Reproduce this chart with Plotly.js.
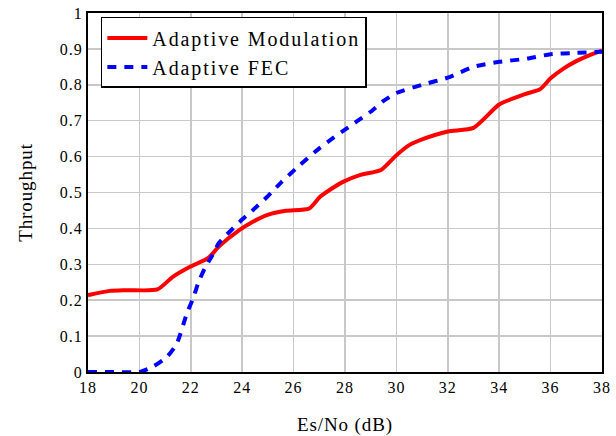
<!DOCTYPE html>
<html><head><meta charset="utf-8">
<script src="https://cdn.plot.ly/plotly-3.0.1.min.js"></script>
<style>
body{margin:0;background:#fff}#c{width:616px;height:436px}
.legendtext{letter-spacing:1.9px}
.xtick text,.ytick text{letter-spacing:1px}
.g-xtitle text,.g-ytitle text{letter-spacing:0.9px}
</style>
</head><body><div id="c"></div>
<script>
var xAM = [18, 18.85, 19.5, 20.7, 21.3, 21.97, 22.67, 23.1, 23.9, 24.4, 24.96, 25.7, 26.6, 27.03, 27.4, 27.9, 28.6, 29.4, 30.0, 30.5, 31, 32, 33, 34, 35, 35.6, 36, 36.5, 37, 37.5, 38];
var yAM = [0.214, 0.226, 0.228, 0.23, 0.265, 0.293, 0.317, 0.35, 0.396, 0.418, 0.437, 0.449, 0.455, 0.488, 0.507, 0.529, 0.549, 0.563, 0.604, 0.632, 0.648, 0.67, 0.68, 0.745, 0.774, 0.788, 0.818, 0.845, 0.866, 0.882, 0.895];
var xFEC = [18, 19, 20, 20.5, 21.07, 21.46, 21.85, 22.09, 22.3, 22.55, 22.8, 23.1, 23.5, 23.9, 24.4, 25, 25.5, 26.25, 27, 27.5, 28, 28.5, 29, 29.5, 30, 31, 32, 33, 34, 35, 36, 37, 38];
var yFEC = [0, 0, 0, 0.014, 0.042, 0.08, 0.164, 0.205, 0.25, 0.29, 0.32, 0.36, 0.39, 0.418, 0.45, 0.49, 0.527, 0.577, 0.623, 0.65, 0.675, 0.7, 0.725, 0.755, 0.777, 0.8, 0.82, 0.85, 0.864, 0.872, 0.885, 0.889, 0.892];
var xTicks = [18, 20, 22, 24, 26, 28, 30, 32, 34, 36, 38];
var yTicks = [0, 0.1, 0.2, 0.3, 0.4, 0.5, 0.6, 0.7, 0.8, 0.9, 1];
var yTickText = ['0', '0.1', '0.2', '0.3', '0.4', '0.5', '0.6', '0.7', '0.8', '0.9', '1'];

var serif = 'Liberation Serif, Times New Roman, serif';
var traces = [
  {x: xAM, y: yAM, type: 'scatter', mode: 'lines', name: 'Adaptive Modulation',
   line: {color: '#ff0000', width: 4, shape: 'spline', smoothing: 0.6}},
  {x: xFEC, y: yFEC, type: 'scatter', mode: 'lines', name: 'Adaptive FEC',
   line: {color: '#0000ff', width: 4, dash: '9px,8px', shape: 'spline', smoothing: 0.6}}
];
var layout = {
  width: 616, height: 436,
  margin: {l: 88, r: 14, t: 13, b: 64},
  paper_bgcolor: '#fff', plot_bgcolor: '#fff',
  font: {family: serif, color: '#000', size: 16},
  showlegend: true,
  legend: {x: 0.025, y: 0.989, xanchor: 'left', yanchor: 'top',
    bgcolor: '#fff', bordercolor: '#000', borderwidth: 1.5,
    font: {family: serif, size: 20, color: '#000'}, tracegroupgap: 0, itemwidth: 40},
  xaxis: {range: [18, 38], tickvals: xTicks, ticktext: xTicks.map(String),
    showgrid: true, gridcolor: '#c8c8c8', gridwidth: 1.5,
    showline: true, linecolor: '#000', linewidth: 2, mirror: true,
    ticks: '', zeroline: false, tickfont: {family: serif, size: 16},
    title: {text: 'Es/No (dB)', font: {family: serif, size: 19}, standoff: 24}},
  yaxis: {range: [0, 1], tickvals: yTicks, ticktext: yTickText,
    showgrid: true, gridcolor: '#c8c8c8', gridwidth: 1.5,
    showline: true, linecolor: '#000', linewidth: 2, mirror: true,
    ticks: '', zeroline: false, tickfont: {family: serif, size: 16},
    title: {text: 'Throughput', font: {family: serif, size: 19}, standoff: 22}}
};
Plotly.newPlot('c', traces, layout, {displayModeBar: false, staticPlot: true});
</script></body></html>
